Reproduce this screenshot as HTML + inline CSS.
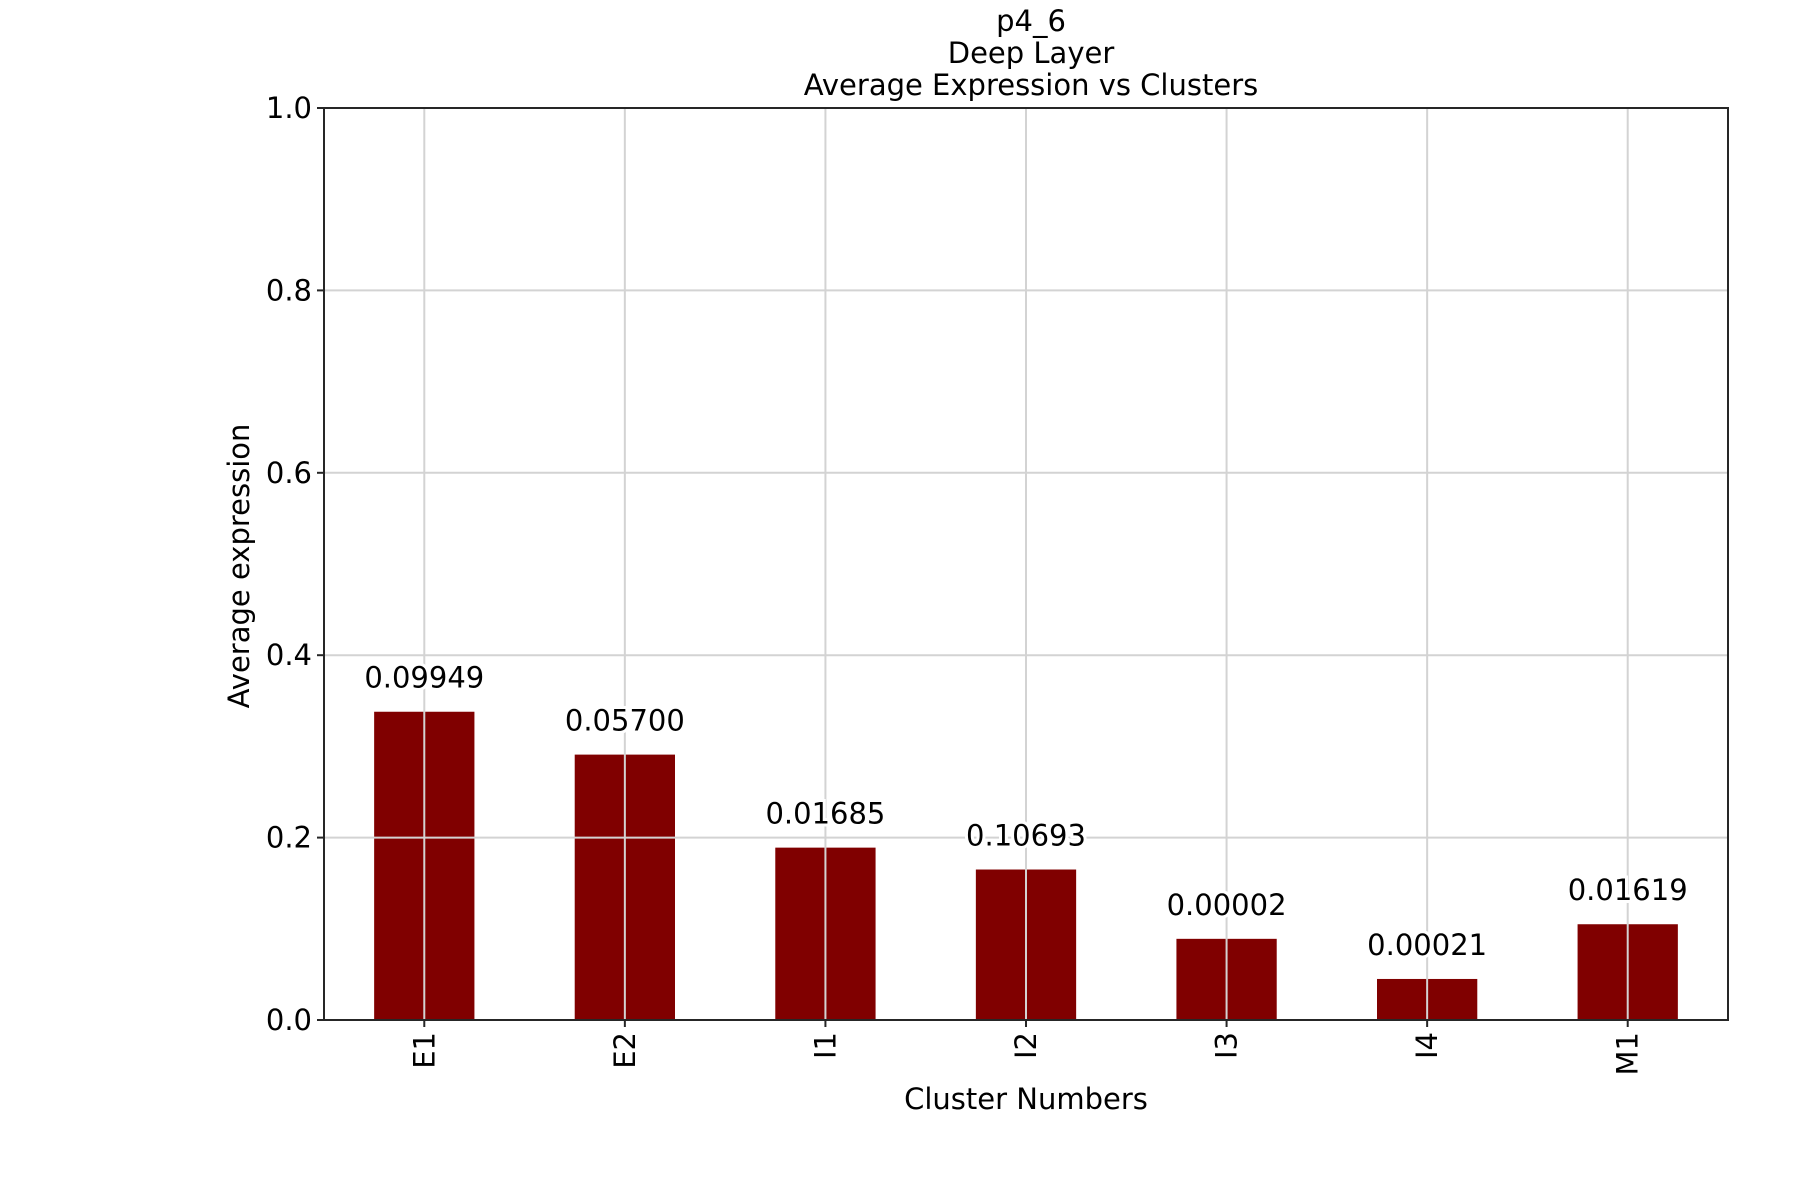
<!DOCTYPE html>
<html><head><meta charset="utf-8"><style>
html,body{margin:0;padding:0;background:#fff;}
svg{display:block;font-family:"DejaVu Sans","Liberation Sans",sans-serif;}
</style></head><body>
<svg id="chart" width="1800" height="1200" viewBox="0 0 1800 1200">
<g id="titles">
<text x="1031" y="31" font-size="29" text-anchor="middle">p4_6</text>
<text x="1031" y="63" font-size="29" text-anchor="middle">Deep Layer</text>
<text x="1031" y="95" font-size="29" text-anchor="middle">Average Expression vs Clusters</text>
</g>
<g id="bars"></g>
<g id="grid"></g>
<g id="labels"></g>
<g id="axes"></g>
<text x="1026" y="1109" font-size="29" text-anchor="middle">Cluster Numbers</text>
<text transform="translate(249,566) rotate(-90)" font-size="29" text-anchor="middle">Average expression</text>
</svg>
<script>
const categories = ["E1","E2","I1","I2","I3","I4","M1"];
const values = [0.338, 0.291, 0.189, 0.165, 0.089, 0.045, 0.105];
const valueLabels = ["0.09949","0.05700","0.01685","0.10693","0.00002","0.00021","0.01619"];
const yTicks = [0.0, 0.2, 0.4, 0.6, 0.8, 1.0];
const yTickLabels = ["0.0","0.2","0.4","0.6","0.8","1.0"];

const L=324, R=1728, T=108, B=1020;
const NS="http://www.w3.org/2000/svg";
function y(v){return B-(v-0)/(1-0)*(B-T);}
function x(i){return L+(i+0.5)*(R-L)/categories.length;}
const bw=0.5*(R-L)/categories.length;
function mk(tag,attrs,parent){const e=document.createElementNS(NS,tag);for(const k in attrs)e.setAttribute(k,attrs[k]);parent.appendChild(e);return e;}
const grid=document.getElementById('grid'), bars=document.getElementById('bars'), labels=document.getElementById('labels'), axes=document.getElementById('axes');
yTicks.forEach((t,i)=>{
  const g=mk('line',{x1:L,x2:R,y1:y(t),y2:y(t),stroke:'#d3d3d3','stroke-width':2},grid);
  
  
  const tk=mk('line',{x1:L-7,x2:L,y1:y(t),y2:y(t),stroke:'#262626','stroke-width':2},axes);
  
  
  const tl=mk('text',{x:L-12,y:y(t)+10,'font-size':29,'text-anchor':'end'},axes);
  tl.textContent=yTickLabels[i];
  
  
});
categories.forEach((c,i)=>{
  const r=mk('rect',{x:x(i)-bw/2,y:y(values[i]),width:bw,height:B-y(values[i]),fill:'#800000'},bars);
  
  
  const lb=mk('text',{x:x(i),y:y(values[i])-24,'font-size':29,'text-anchor':'middle',stroke:'#fff','stroke-width':6,'paint-order':'stroke'},labels);
  lb.textContent=valueLabels[i];
  
  
  const vg=mk('line',{x1:x(i),x2:x(i),y1:T,y2:B,stroke:'#d3d3d3','stroke-width':2},grid);
  
  
  const tk=mk('line',{x1:x(i),x2:x(i),y1:B,y2:B+7,stroke:'#262626','stroke-width':2},axes);
  
  
  const tl=mk('text',{transform:`translate(${x(i)+10},${B+12}) rotate(-90)`,'font-size':29,'text-anchor':'end'},axes);
  tl.textContent=c;
  
  
});
const frame=mk('rect',{x:L,y:T,width:R-L,height:B-T,fill:'none',stroke:'#262626','stroke-width':2},axes);


</script>
</body></html>
